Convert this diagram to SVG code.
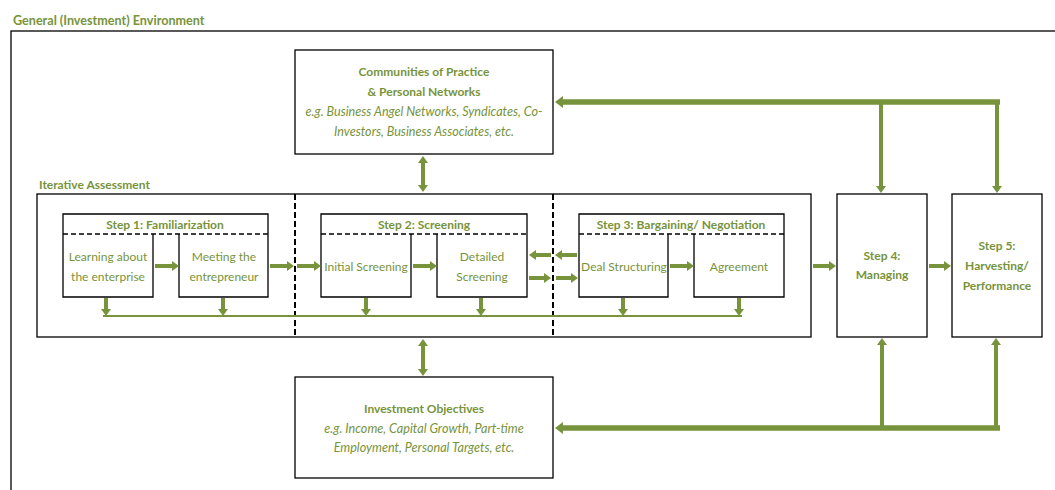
<svg xmlns="http://www.w3.org/2000/svg" width="1055" height="490" viewBox="0 0 1055 490">
<style>
text{font-family:Lato,"Open Sans","Liberation Sans",sans-serif;fill:#77933C}
.b{font-weight:bold;font-size:12px}
.r{font-size:12px}
.i{font-style:italic;font-size:12.6px}
.m{text-anchor:middle}
.box{fill:#fff;stroke:#000;stroke-width:1.3}
.ln{fill:none;stroke:#000;stroke-width:1.3}
.dash{fill:none;stroke:#000;stroke-width:1.6;stroke-dasharray:5,3}
.vd{fill:none;stroke:#000;stroke-width:2;stroke-dasharray:6,3}
.a{fill:none;stroke:#77933C;stroke-width:4}
.t{fill:none;stroke:#77933C;stroke-width:5.5}
.thin{fill:none;stroke:#77933C;stroke-width:2}
</style>
<defs>
<marker id="h" viewBox="0 0 7 10" refX="0" refY="5" markerWidth="7" markerHeight="10" markerUnits="userSpaceOnUse" orient="auto"><path d="M0,0 L7,5 L0,10 z" fill="#77933C"/></marker>
<marker id="hs" viewBox="0 0 7 10" refX="0" refY="5" markerWidth="7" markerHeight="10" markerUnits="userSpaceOnUse" orient="auto-start-reverse"><path d="M0,0 L7,5 L0,10 z" fill="#77933C"/></marker>
<marker id="ht" viewBox="0 0 8 12" refX="0" refY="6" markerWidth="8" markerHeight="12" markerUnits="userSpaceOnUse" orient="auto"><path d="M0,0 L8,6 L0,12 z" fill="#77933C"/></marker>
</defs>

<g id="environment">
<rect x="11" y="31" width="1060" height="480" class="ln"/>
<text x="13" y="25" class="b" style="font-size:12.6px">General (Investment) Environment</text>
</g>

<g id="communities">
<rect x="295" y="50" width="258" height="104" class="box"/>
<text x="424" y="76" class="b m">Communities of Practice</text>
<text x="424" y="96" class="b m">&amp; Personal Networks</text>
<text x="424" y="116" class="i m">e.g. Business Angel Networks, Syndicates, Co-</text>
<text x="424" y="136" class="i m">Investors, Business Associates, etc.</text>
</g>

<g id="objectives">
<rect x="295" y="377" width="258" height="101" class="box"/>
<text x="424" y="413" class="b m">Investment Objectives</text>
<text x="424" y="433" class="i m">e.g. Income, Capital Growth, Part-time</text>
<text x="424" y="452" class="i m">Employment, Personal Targets, etc.</text>
</g>

<g id="iterative">
<text x="39" y="189" class="b" style="font-size:12px">Iterative Assessment</text>
<rect x="37" y="194" width="774" height="143" class="box"/>
<path d="M295,194 V337 M553,194 V337" class="vd"/>
</g>

<g id="step1">
<path d="M63,234 V214 H268 V234" class="ln"/>
<path d="M63,234 H268" class="dash"/>
<text x="165" y="229" class="b m">Step 1: Familiarization</text>
<path d="M63,234 V297 H153 V234 M179,234 V297 H268 V234" class="ln"/>
<text x="108" y="261" class="r m">Learning about</text>
<text x="108" y="281" class="r m">the enterprise</text>
<text x="224" y="261" class="r m">Meeting the</text>
<text x="224" y="281" class="r m">entrepreneur</text>
</g>

<g id="step2">
<path d="M321,234 V214 H527 V234" class="ln"/>
<path d="M321,234 H527" class="dash"/>
<text x="424" y="229" class="b m">Step 2: Screening</text>
<path d="M321,234 V297 H411 V234 M437,234 V297 H527 V234" class="ln"/>
<text x="366" y="271" class="r m">Initial Screening</text>
<text x="482" y="261" class="r m">Detailed</text>
<text x="482" y="281" class="r m">Screening</text>
</g>

<g id="step3">
<path d="M579,234 V214 H784 V234" class="ln"/>
<path d="M579,234 H784" class="dash"/>
<text x="681" y="229" class="b m">Step 3: Bargaining/ Negotiation</text>
<path d="M579,234 V297 H668 V234 M694,234 V297 H784 V234" class="ln"/>
<text x="624" y="271" class="r m">Deal Structuring</text>
<text x="739" y="271" class="r m">Agreement</text>
</g>

<g id="step4">
<rect x="837" y="194" width="90" height="143" class="box"/>
<text x="882" y="260" class="b m">Step 4:</text>
<text x="882" y="279" class="b m">Managing</text>
</g>

<g id="step5">
<rect x="952" y="194" width="90" height="143" class="box"/>
<text x="997" y="250" class="b m">Step 5:</text>
<text x="997" y="270" class="b m">Harvesting/</text>
<text x="997" y="290" class="b m">Performance</text>
</g>

<g id="connectors">
<path d="M155,266 H172" class="a" marker-end="url(#h)"/>
<path d="M270,266 H287" class="a" marker-end="url(#h)"/>
<path d="M297,266 H314" class="a" marker-end="url(#h)"/>
<path d="M413,266 H430" class="a" marker-end="url(#h)"/>
<path d="M670,266 H687" class="a" marker-end="url(#h)"/>
<path d="M813,266 H829" class="a" marker-end="url(#h)"/>
<path d="M929,266 H944" class="a" marker-end="url(#h)"/>
<path d="M551,255 H536" class="a" marker-end="url(#h)"/>
<path d="M577,255 H562" class="a" marker-end="url(#h)"/>
<path d="M529,278 H544" class="a" marker-end="url(#h)"/>
<path d="M556,278 H571" class="a" marker-end="url(#h)"/>
<path d="M103,316 H742" class="thin"/>
<path d="M106,298 V309" class="a" marker-end="url(#h)"/>
<path d="M223,298 V309" class="a" marker-end="url(#h)"/>
<path d="M366,298 V309" class="a" marker-end="url(#h)"/>
<path d="M481,298 V309" class="a" marker-end="url(#h)"/>
<path d="M623,298 V309" class="a" marker-end="url(#h)"/>
<path d="M739,298 V309" class="a" marker-end="url(#h)"/>
<path d="M423,163 V185" class="a" marker-start="url(#hs)" marker-end="url(#h)"/>
<path d="M423,346 V369" class="a" marker-start="url(#hs)" marker-end="url(#h)"/>
<path d="M1000,102 H563" class="t" marker-end="url(#ht)"/>
<path d="M881,102 V186" class="a" marker-end="url(#h)"/>
<path d="M997,102 V186" class="a" marker-end="url(#h)"/>
<path d="M1000,428 H563" class="t" marker-end="url(#ht)"/>
<path d="M882,428 V345" class="a" marker-end="url(#h)"/>
<path d="M996,428 V345" class="a" marker-end="url(#h)"/>
</g>
</svg>
